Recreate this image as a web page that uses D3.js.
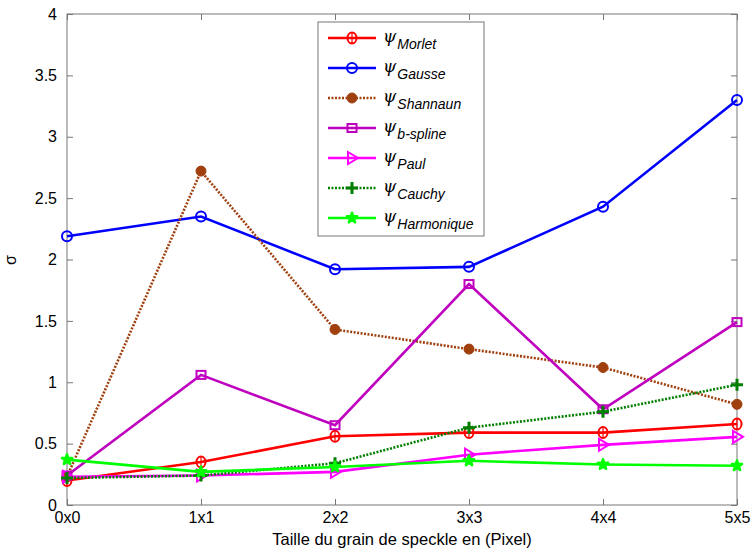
<!DOCTYPE html>
<html><head><meta charset="utf-8">
<script src="https://cdn.jsdelivr.net/npm/d3@7"></script>
<style>body{margin:0;background:#fff}svg{display:block}</style>
</head><body>
<svg id="c" width="755" height="553"></svg>
<script>
const categories = ["0x0","1x1","2x2","3x3","4x4","5x5"];
const yTicks = [0,0.5,1,1.5,2,2.5,3,3.5,4];
const morlet     = [0.20,0.35,0.56,0.59,0.59,0.66];
const gausse     = [2.19,2.35,1.92,1.94,2.43,3.30];
const shannaun   = [0.23,2.72,1.43,1.27,1.12,0.82];
const bspline    = [0.24,1.06,0.65,1.80,0.78,1.49];
const paul       = [0.23,0.24,0.27,0.41,0.49,0.555];
const cauchy     = [0.22,0.24,0.34,0.63,0.76,0.98];
const harmonique = [0.37,0.27,0.31,0.36,0.33,0.32];
const seriesNames = ["Morlet","Gausse","Shannaun","b-spline","Paul","Cauchy","Harmonique"];

const series = [
  {name:seriesNames[0], values:morlet, color:"#ff0000", dash:null, marker:"morlet"},
  {name:seriesNames[1], values:gausse, color:"#0000ff", dash:null, marker:"ocircle"},
  {name:seriesNames[2], values:shannaun, color:"#a0400f", dash:"2,1.5", marker:"fcircle"},
  {name:seriesNames[3], values:bspline, color:"#bf00bf", dash:null, marker:"square"},
  {name:seriesNames[4], values:paul, color:"#ff00ff", dash:null, marker:"tri"},
  {name:seriesNames[5], values:cauchy, color:"#007f00", dash:"2,1.5", marker:"plus"},
  {name:seriesNames[6], values:harmonique, color:"#00ff00", dash:null, marker:"hex"}
];

const svg = d3.select("#c");
const L=67, R=737, T=14, B=505;
const x = d3.scalePoint().domain(categories).range([L,R]);
const y = d3.scaleLinear().domain([0,4]).range([B,T]);

svg.append("rect").attr("x",L).attr("y",T).attr("width",R-L).attr("height",B-T)
  .attr("fill","none").attr("stroke","#777").attr("stroke-width",1);

const font = "'Liberation Sans', Arial, sans-serif";
const xAxis = svg.append("g").attr("transform",`translate(0,${B})`)
  .call(d3.axisBottom(x).tickSizeInner(-6).tickSizeOuter(0).tickPadding(10));
const xAxisTop = svg.append("g").attr("transform",`translate(0,${T})`)
  .call(d3.axisTop(x).tickSizeInner(-6).tickSizeOuter(0).tickFormat(""));
const yAxis = svg.append("g").attr("transform",`translate(${L},0)`)
  .call(d3.axisLeft(y).tickValues(yTicks).tickFormat(d3.format("")).tickSizeInner(-6).tickSizeOuter(0).tickPadding(10));
const yAxisR = svg.append("g").attr("transform",`translate(${R},0)`)
  .call(d3.axisRight(y).tickValues(yTicks).tickFormat("").tickSizeInner(-6).tickSizeOuter(0));
[xAxis,xAxisTop,yAxis,yAxisR].forEach(g=>{
  g.select(".domain").remove();
  g.selectAll("line").attr("stroke","#777");
  g.selectAll("text").attr("font-family",font).attr("font-size",16).attr("fill","#000");
});
xAxis.selectAll("text").attr("dy","0.5em");

svg.append("text").attr("x",(L+R)/2).attr("y",545).attr("text-anchor","middle")
  .attr("font-family",font).attr("font-size",16.5).text("Taille du grain de speckle en (Pixel)");
svg.append("text").attr("transform","translate(16,260) rotate(-90)").attr("text-anchor","middle")
  .attr("font-family",font).attr("font-size",16).text("σ");

function drawMarker(g, type, color, cx, cy){
  const s = g.append("g").attr("transform",`translate(${cx},${cy})`);
  if(type==="morlet"){
    s.append("ellipse").attr("rx",4.5).attr("ry",5.5).attr("fill","none").attr("stroke",color).attr("stroke-width",2);
    s.append("line").attr("x1",0).attr("x2",0).attr("y1",-5).attr("y2",5).attr("stroke",color).attr("stroke-width",1.2);
  } else if(type==="ocircle"){
    s.append("circle").attr("r",5).attr("fill","none").attr("stroke",color).attr("stroke-width",2);
  } else if(type==="fcircle"){
    s.append("circle").attr("r",5).attr("fill",color).attr("stroke",color).attr("stroke-width",1);
  } else if(type==="square"){
    s.append("rect").attr("x",-4.5).attr("y",-4).attr("width",9).attr("height",8).attr("fill","none").attr("stroke",color).attr("stroke-width",2);
  } else if(type==="tri"){
    s.append("path").attr("d","M-4,-6L6,0L-4,6Z").attr("fill","none").attr("stroke",color).attr("stroke-width",2);
  } else if(type==="plus"){
    s.append("path").attr("d","M-6,0H6M0,-6V6").attr("stroke",color).attr("stroke-width",3);
  } else if(type==="hex"){
    s.append("path").attr("d",d3.symbol(d3.symbolStar,32)()).attr("fill",color).attr("stroke",color).attr("stroke-width",2.5).attr("stroke-linejoin","round");
  }
}

const line = d3.line().x((d,i)=>x(categories[i])).y(d=>y(d));
const plot = svg.append("g");
series.forEach(s=>{
  plot.append("path").datum(s.values).attr("d",line).attr("fill","none")
    .attr("stroke",s.color).attr("stroke-width",2.6).attr("stroke-dasharray",s.dash);
  s.values.forEach((v,i)=>drawMarker(plot,s.marker,s.color,x(categories[i]),y(v)));
});

const lg = svg.append("g");
lg.append("rect").attr("x",318).attr("y",22).attr("width",166).attr("height",214)
  .attr("fill","#fff").attr("stroke","#777").attr("stroke-width",1);
series.forEach((s,i)=>{
  const cy = 38 + i*30;
  lg.append("line").attr("x1",328).attr("x2",376).attr("y1",cy).attr("y2",cy)
    .attr("stroke",s.color).attr("stroke-width",2.6).attr("stroke-dasharray",s.dash);
  drawMarker(lg,s.marker,s.color,352,cy);
  const t = lg.append("text").attr("x",383).attr("y",cy+4).attr("font-family",font);
  t.append("tspan").attr("font-family","'DejaVu Serif', serif").attr("font-style","italic").attr("font-size",17).text("ψ");
  t.append("tspan").attr("dy",7).attr("font-style","italic").attr("font-size",14).attr("dx",1).text(s.name);
});
</script>
</body></html>
